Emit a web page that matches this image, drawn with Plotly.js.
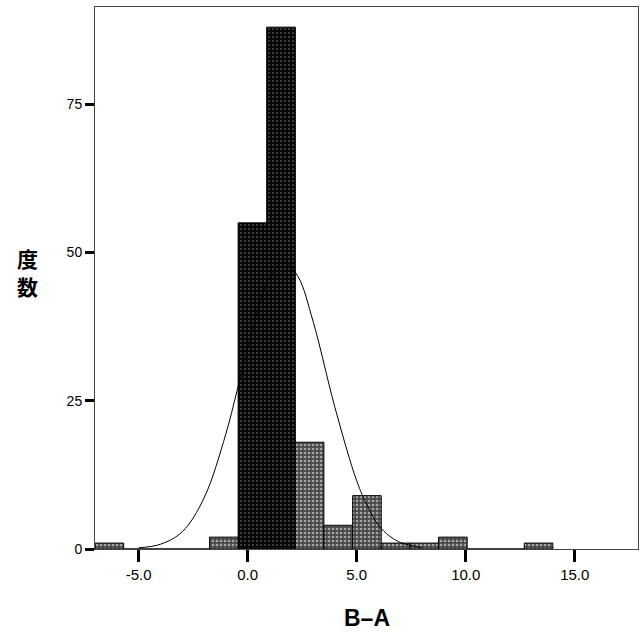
<!DOCTYPE html>
<html>
<head>
<meta charset="utf-8">
<script src="https://cdn.plot.ly/plotly-3.0.1.min.js"></script>
<style>html,body{margin:0;padding:0;background:#fff;}#chart{width:641px;height:637px;}</style>
</head>
<body>
<div id="chart"></div>
<script>
// Histogram of B-A (bin centres, counts)
var binCenters = [-6.34, -5.03, -3.72, -2.41, -1.09, 0.22, 1.53, 2.84, 4.16, 5.47, 6.78, 8.09, 9.41, 10.72, 12.03, 13.34];
var counts     = [1, 0, 0, 0, 2, 55, 88, 18, 4, 9, 1, 1, 2, 0, 0, 1];
// Fitted normal curve
var curveX = [-5, -4, -3, -2, -1, -0.5, 0, 1, 1.66, 2.3, 3, 4, 5, 5.5, 6, 6.5, 7, 7.5, 8];
var curveY = [0.2, 0.8, 2.9, 8.6, 19.4, 26.5, 33.9, 45.8, 48.4, 46, 38.4, 23.9, 11.5, 7.2, 4.0, 2.2, 1.1, 0.6, 0.2];
var xTicks = [-5, 0, 5, 10, 15];
var xTickText = ['-5.0', '0.0', '5.0', '10.0', '15.0'];
var yTicks = [0, 25, 50, 75];
var xTitle = 'B–A';
var yTitleChars = ['度', '数'];

var binWidth = 1.3125;
var bg = counts.map(function(c){ return c >= 50 ? '#060606' : '#4a4a4a'; });
var fg = counts.map(function(c){ return c >= 50 ? '#8a8a8a' : '#c8c8c8'; });
var sol = counts.map(function(c){ return c >= 50 ? 0.12 : 0.35; });

var traces = [
  {
    type: 'bar', x: binCenters, y: counts, width: binWidth,
    marker: {
      color: bg,
      line: {color: '#000', width: 1},
      pattern: {shape: '.', bgcolor: bg, fgcolor: fg, size: 4, solidity: sol, fillmode: 'overlay'}
    },
    hoverinfo: 'skip', showlegend: false
  },
  {
    type: 'scatter', mode: 'lines', x: curveX, y: curveY,
    line: {color: '#000', width: 1, shape: 'spline'},
    hoverinfo: 'skip', showlegend: false
  }
];

var titleFont = {size: 21, family: 'Noto Sans CJK JP, sans-serif', weight: 'bold', color: '#000'};
var layout = {
  width: 641, height: 637,
  margin: {l: 95, r: 3, t: 7, b: 88},
  paper_bgcolor: '#fff', plot_bgcolor: '#fff',
  bargap: 0,
  showlegend: false,
  font: {family: 'Liberation Sans, Arial, sans-serif', color: '#000'},
  xaxis: {
    range: [-7, 17.9], showgrid: false, zeroline: false,
    showline: true, linecolor: '#444', linewidth: 1, mirror: true,
    tickmode: 'array', tickvals: xTicks, ticktext: xTickText,
    ticks: 'outside', ticklen: 12, tickwidth: 3, tickcolor: '#000',
    tickfont: {size: 15, color: '#000'}
  },
  yaxis: {
    range: [0, 91.4], showgrid: false, zeroline: false,
    showline: true, linecolor: '#444', linewidth: 1, mirror: true,
    tickmode: 'array', tickvals: yTicks,
    ticks: 'outside', ticklen: 9, tickwidth: 3, tickcolor: '#000',
    tickfont: {size: 14, color: '#000'}
  },
  annotations: [
    {text: xTitle, xref: 'paper', yref: 'paper', x: 0.5, y: -0.127, xanchor: 'center', yanchor: 'middle',
     showarrow: false, font: {size: 23, family: 'Liberation Sans, Arial, sans-serif', weight: 'bold', color: '#000'}},
    {text: yTitleChars[0], xref: 'paper', yref: 'paper', x: -0.125, y: 0.537, xanchor: 'center', yanchor: 'middle',
     showarrow: false, borderpad: 0, font: titleFont},
    {text: yTitleChars[1], xref: 'paper', yref: 'paper', x: -0.125, y: 0.485, xanchor: 'center', yanchor: 'middle',
     showarrow: false, borderpad: 0, font: titleFont}
  ]
};

Plotly.newPlot('chart', traces, layout, {displayModeBar: false, staticPlot: true});
</script>
</body>
</html>
